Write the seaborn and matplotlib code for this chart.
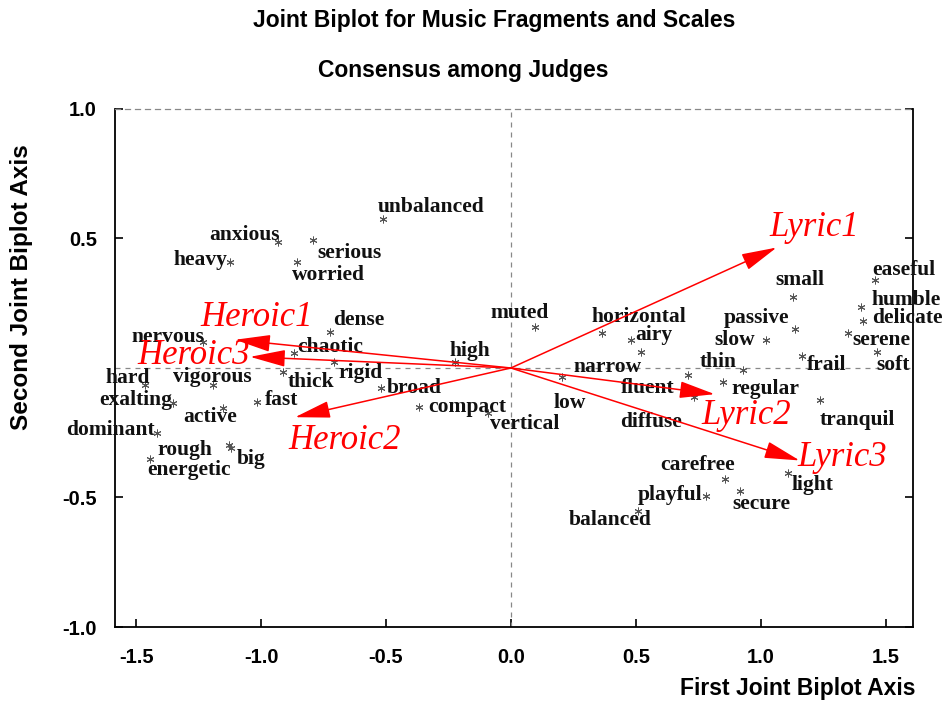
import matplotlib
matplotlib.use("Agg")
import matplotlib.pyplot as plt
import seaborn as sns
import pandas as pd

# ==========================================
# DATA: scale terms (asterisks) and music fragments (arrows)
# ==========================================
terms = ['anxious', 'heavy', 'serious', 'worried', 'unbalanced', 'nervous',
         'hard', 'exalting', 'vigorous', 'active', 'dominant', 'rough', 'big',
         'energetic', 'fast', 'thick', 'chaotic', 'dense', 'rigid', 'broad',
         'compact', 'vertical', 'high', 'muted', 'horizontal', 'airy', 'narrow',
         'thin', 'low', 'fluent', 'diffuse', 'regular', 'small', 'passive',
         'slow', 'frail', 'tranquil', 'easeful', 'humble', 'delicate', 'serene',
         'soft', 'light', 'secure', 'carefree', 'playful', 'balanced']
term_x = [-0.932, -1.124, -0.792, -0.856, -0.512, -1.232,
          -1.464, -1.352, -1.192, -1.152, -1.416, -1.128, -1.120,
          -1.444, -1.016, -0.912, -0.868, -0.724, -0.708, -0.520,
          -0.368, -0.092, -0.224, 0.096, 0.364, 0.480, 0.520,
          0.928, 0.204, 0.732, 0.708, 0.848, 1.128, 1.136,
          1.020, 1.164, 1.236, 1.456, 1.400, 1.408, 1.348,
          1.464, 1.108, 0.916, 0.856, 0.780, 0.508]
term_y = [0.488, 0.411, 0.496, 0.411, 0.574, 0.101,
          -0.066, -0.136, -0.066, -0.155, -0.252, -0.298, -0.310,
          -0.353, -0.132, -0.016, 0.058, 0.140, 0.023, -0.078,
          -0.151, -0.174, 0.023, 0.159, 0.136, 0.109, 0.062,
          -0.008, -0.035, -0.112, -0.027, -0.054, 0.275, 0.151,
          0.109, 0.047, -0.124, 0.341, 0.236, 0.182, 0.136,
          0.062, -0.407, -0.473, -0.430, -0.496, -0.554]

fragments = ['Lyric1', 'Lyric2', 'Lyric3', 'Heroic1', 'Heroic2', 'Heroic3']
frag_x = [1.064, 0.816, 1.156, -1.104, -0.864, -1.044]
frag_y = [0.465, -0.101, -0.357, 0.109, -0.190, 0.043]

x_ticks = [-1.5, -1.0, -0.5, 0.0, 0.5, 1.0, 1.5]
x_tick_labels = ['-1.5', '-1.0', '-0.5', '0.0', '0.5', '1.0', '1.5']
y_ticks = [-1.0, -0.5, 0.5, 1.0]
y_tick_labels = ['-1.0', '-0.5', '0.5', '1.0']

# label placement (pixel offset from the point, horizontal alignment)
term_pos = {
    'anxious': (2, 7, 'right'), 'heavy': (-3, 2, 'right'), 'serious': (4, -13, 'left'),
    'worried': (-5, -13, 'left'), 'unbalanced': (-5, 12, 'left'), 'nervous': (1, 5, 'right'),
    'hard': (5, 7, 'right'), 'exalting': (-1, 3, 'right'), 'vigorous': (-1, 8, 'center'),
    'active': (-13, -9, 'center'), 'dominant': (-2, 3, 'right'), 'rough': (-17, -5, 'right'),
    'big': (6, -11, 'left'), 'energetic': (-3, -11, 'left'), 'fast': (8, 2, 'left'),
    'thick': (5, -10, 'left'), 'chaotic': (3, 6, 'left'), 'dense': (3, 12, 'left'),
    'rigid': (4, -11, 'left'), 'broad': (6, 0, 'left'), 'compact': (9, 0, 'left'),
    'vertical': (2, -11, 'left'), 'high': (-5, 11, 'left'), 'muted': (-15, 14, 'center'),
    'horizontal': (-10, 16, 'left'), 'airy': (4, 5, 'left'), 'narrow': (1, -15, 'right'),
    'thin': (-6, 8, 'right'), 'low': (8, -26, 'center'), 'fluent': (-19, 9, 'right'),
    'diffuse': (-6, -47, 'right'), 'regular': (9, -7, 'left'), 'small': (7, 17, 'center'),
    'passive': (-5, 11, 'right'), 'slow': (-11, 0, 'right'), 'frail': (5, -9, 'left'),
    'tranquil': (0, -20, 'left'), 'easeful': (-2, 10, 'left'), 'humble': (11, 7, 'left'),
    'delicate': (10, 3, 'left'), 'serene': (5, -7, 'left'), 'soft': (0, -13, 'left'),
    'light': (4, -12, 'left'), 'secure': (-7, -13, 'left'), 'carefree': (10, 14, 'right'),
    'playful': (-3, 1, 'right'), 'balanced': (-28, -9, 'center'),
}
frag_pos = {
    'Lyric1': (-7, 20, 'left'), 'Lyric2': (-13, -21, 'left'), 'Lyric3': (-2, 3, 'left'),
    'Heroic1': (-35, 22, 'left'), 'Heroic2': (-7, -23, 'left'), 'Heroic3': (0, 1, 'right'),
}

df_terms = pd.DataFrame({'term': terms, 'x': term_x, 'y': term_y})

# ==========================================
# PLOT
# ==========================================
sns.set_theme(style="white")
plt.rcParams['font.family'] = ['Liberation Sans', 'DejaVu Sans']
plt.rcParams['text.color'] = 'black'
plt.rcParams['xtick.color'] = 'black'
plt.rcParams['ytick.color'] = 'black'

fig = plt.figure(figsize=(9.47, 7.03), dpi=100)
ax = fig.add_axes([0.1214, 0.1081, 0.8427, 0.7369])

ax.axhline(0, color='#888888', lw=0.9, ls=(0, (4, 4)), zorder=1)
ax.axvline(0, color='#888888', lw=0.9, ls=(0, (4, 4)), zorder=1)

sns.scatterplot(data=df_terms, x='x', y='y', marker=(6, 2, 0), s=26,
                color='#555555', linewidth=0.7, ax=ax, zorder=3, legend=False)

for t, x, y in zip(terms, term_x, term_y):
    dx, dy, ha = term_pos[t]
    ax.annotate(t, (x, y), xytext=(dx, dy), textcoords='offset pixels',
                ha=ha, va='center', fontsize=15.5, fontweight='bold',
                family='Liberation Serif', color='#111111', zorder=4)

for f, x, y in zip(fragments, frag_x, frag_y):
    ax.annotate('', xy=(x, y), xytext=(0, 0),
                arrowprops=dict(arrowstyle='-|>,head_length=1.0,head_width=0.24',
                                color='red', lw=1.1, mutation_scale=22,
                                shrinkA=0, shrinkB=0), zorder=5)
    dx, dy, ha = frag_pos[f]
    ax.annotate(f, (x, y), xytext=(dx, dy), textcoords='offset pixels',
                ha=ha, va='center', fontsize=25, style='italic',
                family='Liberation Serif', color='red', zorder=6)

ax.set_xlim(-1.585, 1.61)
ax.set_ylim(-1.0, 1.0)
ax.set_xticks(x_ticks)
ax.set_xticklabels(x_tick_labels)
ax.set_yticks(y_ticks)
ax.set_yticklabels(y_tick_labels)
ax.set_xlabel('')
ax.set_ylabel('')
ax.tick_params(axis='both', direction='in', length=6, width=1.2, color='black',
               labelcolor='black', labelsize=14.5, right=True, bottom=True, left=True)
ax.tick_params(axis='x', pad=15)
ax.tick_params(axis='y', pad=13)
for lab in ax.get_xticklabels() + ax.get_yticklabels():
    lab.set_fontweight('bold')

for side in ['left', 'bottom', 'right']:
    ax.spines[side].set_color('black')
    ax.spines[side].set_linewidth(1.3)
ax.spines['top'].set_color('#888888')
ax.spines['top'].set_linestyle((0, (4, 4)))
ax.spines['top'].set_linewidth(0.9)

fig.text(494 / 947, 1 - 20 / 703, 'Joint Biplot for Music Fragments and Scales',
         ha='center', va='center', fontsize=16.5, fontweight='bold', color='black')
fig.text(463 / 947, 1 - 70 / 703, 'Consensus among Judges',
         ha='center', va='center', fontsize=16.5, fontweight='bold', color='black')
fig.text(915 / 947, 1 - 689 / 703, 'First Joint Biplot Axis',
         ha='right', va='center', fontsize=16.5, fontweight='bold', color='black')
fig.text(22 / 947, 1 - 287 / 703, 'Second Joint Biplot Axis', rotation=90,
         ha='center', va='center', fontsize=17.5, fontweight='bold', color='black')

fig.savefig('out.png', dpi=100)
